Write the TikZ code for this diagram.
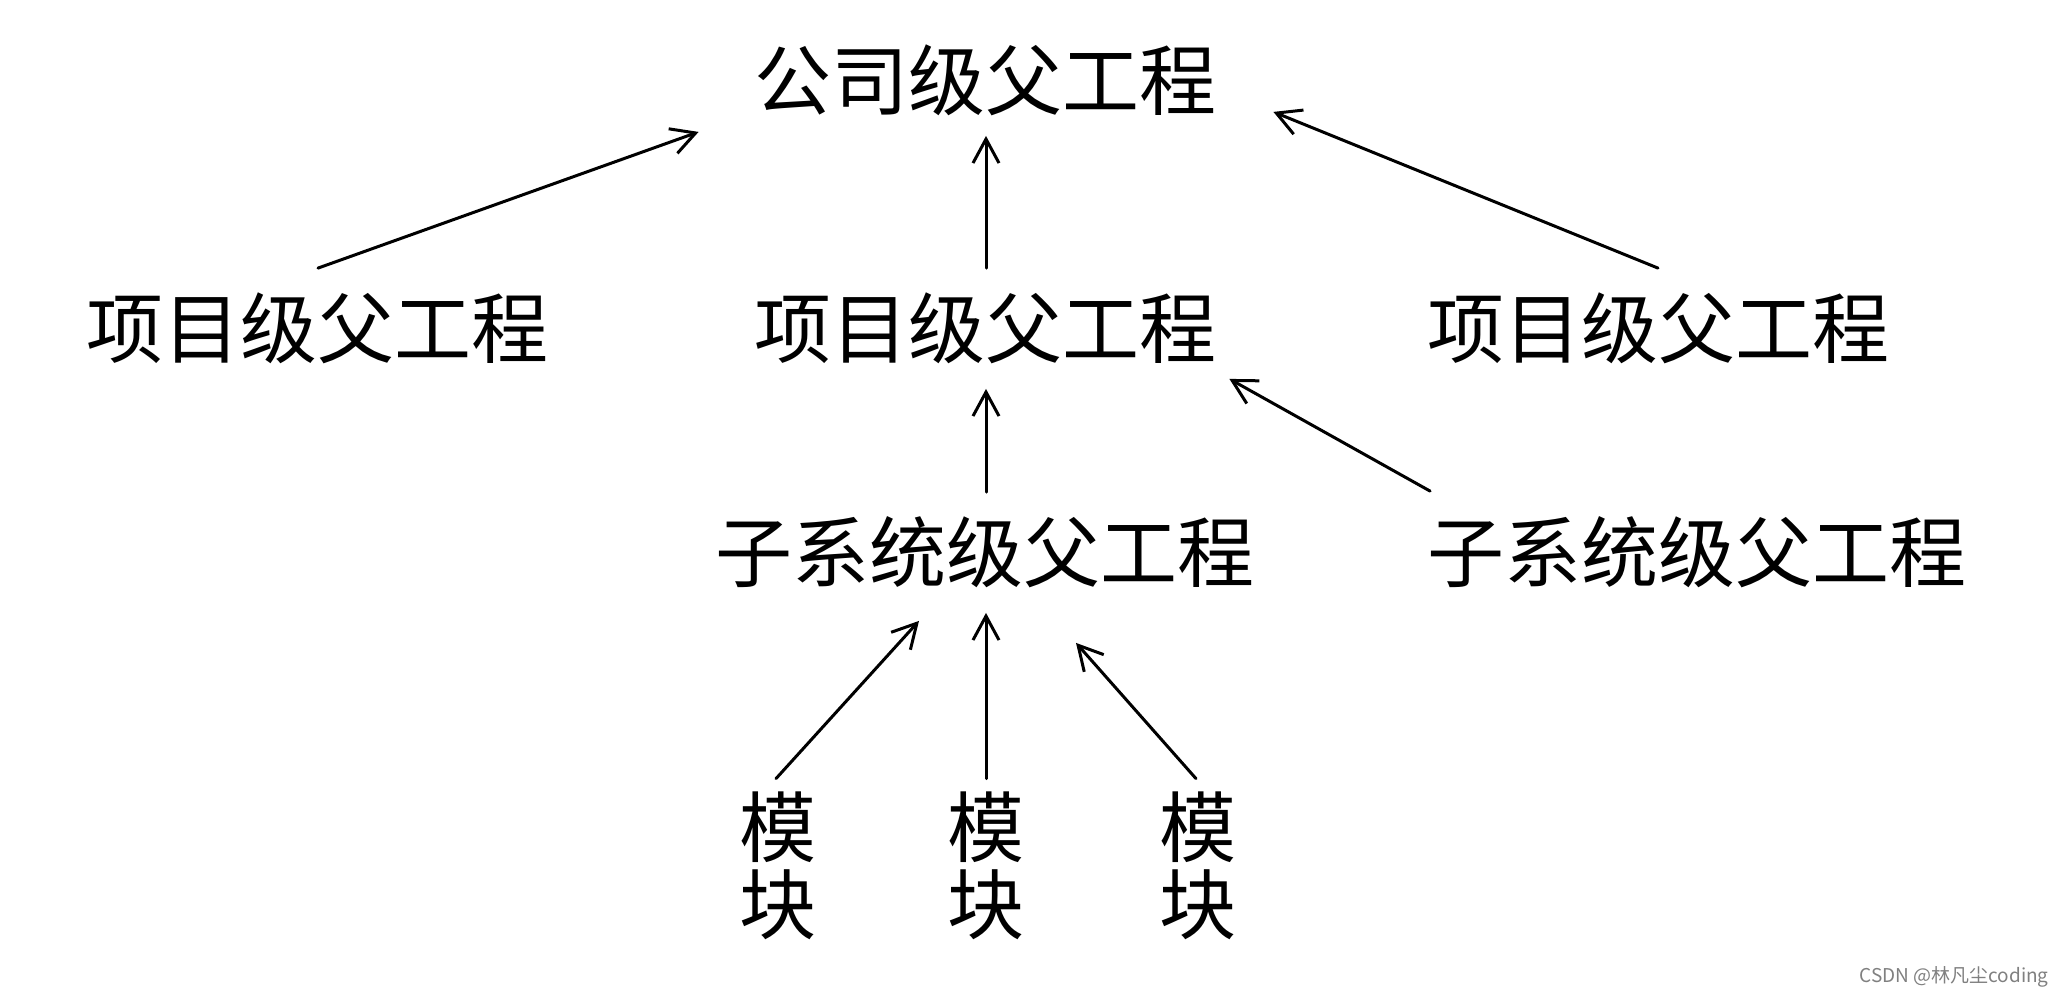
\documentclass[tikz,border=0pt]{standalone}
\usepackage{fontspec}
\setmainfont{Noto Sans CJK SC}
\usetikzlibrary{arrows.meta,calc}
\begin{document}
\begin{tikzpicture}[x=0.5pt,y=-0.5pt,
  lbl/.style={inner sep=0pt, font=\fontsize{38.5pt}{38.5pt}\selectfont, text height=33pt, text depth=5.5pt},
  mod/.style={inner sep=0pt, font=\fontsize{38.5pt}{38.5pt}\selectfont, align=center},
  arr/.style={draw=black, line width=1.5pt, line cap=round, -{Straight Barb[length=12pt,width=13pt,line width=1.5pt]}},
  wm/.style={inner sep=0pt, font=\fontsize{9.5pt}{9.5pt}\selectfont, text=black!50}
]
\fill[white] (0,0) rectangle (2068,996);
\useasboundingbox (0,0) rectangle (2068,996);

\node[lbl] (top) at (985,82) {公司级父工程};
\node[lbl] (l1a) at (317,330) {项目级父工程};
\node[lbl] (l1b) at (985,330) {项目级父工程};
\node[lbl] (l1c) at (1658,330) {项目级父工程};
\node[lbl] (l2b) at (985,554) {子系统级父工程};
\node[lbl] (l2c) at (1697,554) {子系统级父工程};
\node[mod] (m1) at (778,866) {模\\块};
\node[mod] (m2) at (986,866) {模\\块};
\node[mod] (m3) at (1198,866) {模\\块};
\node[wm] (wm) at (1954,977) {CSDN @林凡尘coding};

\draw[arr] ($(l1a.north)+(1,-23)$) -- ($(top.south west)+(-55,11)$);
\draw[arr] ($(l1b.north)+(1,-23)$) -- ($(top.south)+(1,15)$);
\draw[arr] ($(l1c.north)+(0,-23)$) -- ($(top.south east)+(57,-9)$);
\draw[arr] ($(l2b.north)+(1,-23)$) -- ($(l1b.south)+(1,20)$);
\draw[arr] ($(l2c.north west)+(3,-24)$) -- ($(l1b.south east)+(13,10)$);
\draw[arr] ($(m1.north)+(-2,-13)$) -- ($(l2b.south)+(-66,28)$);
\draw[arr] ($(m2.north)+(0,-13)$) -- ($(l2b.south)+(1,20)$);
\draw[arr] ($(m3.north)+(-2,-13)$) -- ($(l2b.south)+(91,50)$);
\end{tikzpicture}
\end{document}
